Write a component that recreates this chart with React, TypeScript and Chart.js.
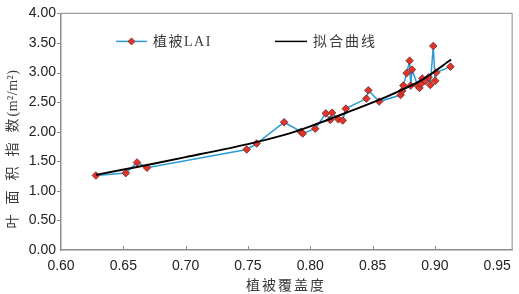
import React, { useEffect, useRef } from "react";
import { Chart, registerables } from "chart.js";

Chart.register(...registerables);

// LAI observations (植被覆盖度, 叶面积指数)
const laiX = [0.628, 0.652, 0.661, 0.669, 0.749, 0.757, 0.779, 0.7925, 0.794, 0.804, 0.8125, 0.816, 0.8175, 0.8225, 0.826, 0.8285, 0.845, 0.8466, 0.8553, 0.8725, 0.8738, 0.8747, 0.8773, 0.8797, 0.8806, 0.8816, 0.8862, 0.8876, 0.8889, 0.8899, 0.8923, 0.895, 0.8963, 0.8987, 0.9002, 0.901, 0.9125];
const laiY = [1.26, 1.30, 1.48, 1.39, 1.70, 1.80, 2.16, 2.00, 1.97, 2.05, 2.31, 2.20, 2.32, 2.21, 2.19, 2.39, 2.56, 2.70, 2.51, 2.62, 2.69, 2.78, 2.99, 3.20, 2.78, 3.05, 2.78, 2.74, 2.81, 2.90, 2.86, 2.92, 2.79, 3.45, 2.86, 3.00, 3.10];

// fitted curve (拟合曲线)
const fitX = [0.628, 0.66, 0.70, 0.75, 0.78, 0.80, 0.83, 0.86, 0.89, 0.913];
const fitY = [1.27, 1.40, 1.57, 1.79, 1.95, 2.09, 2.33, 2.58, 2.88, 3.22];

const xTicks = [0.6, 0.65, 0.7, 0.75, 0.8, 0.85, 0.9, 0.95];
const yTicks = [0, 0.5, 1, 1.5, 2, 2.5, 3, 3.5, 4];

const seriesNames = ["植被LAI", "拟合曲线"];
const xTitle = "植被覆盖度";
const yTitleMain = "叶面积指数";
const yTitleUnit = "(m²/m²)";

const CJK = '"Liberation Serif", "Noto Sans CJK SC"';
const NUM = '"Liberation Sans", Arial, sans-serif';

const BLUE = "#2b9bd6";
const RED = "#e3342b";
const AXIS = "#8c8c8c";
const TXT = "#3a3a3a";

function drawDiamond(ctx: CanvasRenderingContext2D, x: number, y: number, r: number) {
  ctx.beginPath();
  ctx.moveTo(x, y - r);
  ctx.lineTo(x + r, y);
  ctx.lineTo(x, y + r);
  ctx.lineTo(x - r, y);
  ctx.closePath();
  ctx.fillStyle = RED;
  ctx.fill();
  ctx.strokeStyle = "#6b2a22";
  ctx.lineWidth = 0.8;
  ctx.stroke();
}

const decor = {
  id: "decor",
  afterDraw(chart: any) {
    const ctx: CanvasRenderingContext2D = chart.ctx;
    const a = chart.chartArea;
    const xs = chart.scales.x;
    const ys = chart.scales.y;
    ctx.save();
    // frame top & right
    ctx.strokeStyle = "#a0a0a0";
    ctx.lineWidth = 1.2;
    ctx.beginPath();
    ctx.moveTo(a.left, a.top);
    ctx.lineTo(a.right, a.top);
    ctx.lineTo(a.right, a.bottom);
    ctx.stroke();
    // ticks
    ctx.strokeStyle = AXIS;
    ctx.lineWidth = 1;
    ctx.beginPath();
    for (const v of xTicks.slice(1, -1)) {
      const px = Math.round(xs.getPixelForValue(v)) + 0.5;
      ctx.moveTo(px, a.bottom);
      ctx.lineTo(px, a.bottom - 4);
    }
    for (const v of yTicks.slice(1)) {
      const py = Math.round(ys.getPixelForValue(v)) + 0.5;
      ctx.moveTo(a.left, py);
      ctx.lineTo(a.left - 4, py);
    }
    ctx.stroke();

    // legend
    const ly = a.top + 28;
    ctx.lineWidth = 1.5;
    ctx.strokeStyle = BLUE;
    ctx.beginPath();
    ctx.moveTo(116, ly);
    ctx.lineTo(147, ly);
    ctx.stroke();
    drawDiamond(ctx, 131.5, ly, 3.5);
    ctx.strokeStyle = "#000";
    ctx.lineWidth = 1.5;
    ctx.beginPath();
    ctx.moveTo(275, ly);
    ctx.lineTo(307, ly);
    ctx.stroke();
    ctx.fillStyle = TXT;
    ctx.font = `14px ${CJK}`;
    (ctx as any).letterSpacing = "1.5px";
    ctx.textAlign = "left";
    ctx.textBaseline = "middle";
    ctx.fillText(seriesNames[0], 153, ly + 1);
    (ctx as any).letterSpacing = "2px";
    ctx.fillText(seriesNames[1], 313, ly + 1);

    // x title
    ctx.fillText(xTitle, 246, 286);

    // y title
    ctx.translate(13, 149);
    ctx.rotate(-Math.PI / 2);
    (ctx as any).letterSpacing = "10px";
    const w1 = ctx.measureText(yTitleMain).width;
    (ctx as any).letterSpacing = "0.5px";
    const w2 = ctx.measureText(yTitleUnit).width;
    const total = w1 - 8 + w2;
    const start = -total / 2;
    (ctx as any).letterSpacing = "10px";
    ctx.fillText(yTitleMain, start, 0);
    (ctx as any).letterSpacing = "0.5px";
    ctx.fillText(yTitleUnit, start + w1 - 8, 0);
    ctx.restore();
  },
};

export default function App() {
  const ref = useRef<HTMLCanvasElement>(null);
  useEffect(() => {
    const chart = new Chart(ref.current!, {
      type: "scatter",
      data: {
        datasets: [
          {
            label: seriesNames[0],
            data: laiX.map((x, i) => ({ x, y: laiY[i] })),
            showLine: true,
            borderColor: BLUE,
            borderWidth: 1.5,
            pointStyle: "rectRot",
            pointRadius: 3.8,
            pointBackgroundColor: RED,
            pointBorderColor: "#6b2a22",
            pointBorderWidth: 0.8,
            order: 2,
          },
          {
            label: seriesNames[1],
            data: fitX.map((x, i) => ({ x, y: fitY[i] })),
            showLine: true,
            borderColor: "#000",
            borderWidth: 2,
            pointRadius: 0,
            tension: 0.3,
            order: 1,
          },
        ],
      },
      options: {
        animation: false,
        responsive: false,
        devicePixelRatio: 1,
        layout: { padding: { top: 6, right: 3, left: 0, bottom: 0 } },
        plugins: { legend: { display: false }, tooltip: { enabled: false } },
        scales: {
          x: {
            type: "linear",
            min: 0.6,
            max: 0.962,
            afterBuildTicks: (s: any) => {
              s.ticks = xTicks.map((v) => ({ value: v }));
            },
            afterFit: (s: any) => {
              s.height = 44;
            },
            ticks: {
              callback: (v: any) => Number(v).toFixed(2),
              font: { family: NUM, size: 14 },
              color: "#222",
              padding: 8,
              maxRotation: 0,
              autoSkip: false,
            },
            grid: { display: false, drawTicks: false },
            border: { display: true, color: AXIS, width: 1.5 },
          },
          y: {
            type: "linear",
            min: 0,
            max: 4,
            afterBuildTicks: (s: any) => {
              s.ticks = yTicks.map((v) => ({ value: v }));
            },
            afterFit: (s: any) => {
              s.width = 61;
            },
            ticks: {
              callback: (v: any) => Number(v).toFixed(2),
              font: { family: NUM, size: 14 },
              color: "#222",
              padding: 5,
              autoSkip: false,
            },
            grid: { display: false, drawTicks: false },
            border: { display: true, color: AXIS, width: 1.5 },
          },
        },
      },
      plugins: [decor],
    });
    return () => chart.destroy();
  }, []);
  return (
    <div style={{ position: "absolute", left: 0, top: 0, width: 519, height: 294, background: "#fff" }}>
      <canvas ref={ref} width={519} height={294} />
    </div>
  );
}
